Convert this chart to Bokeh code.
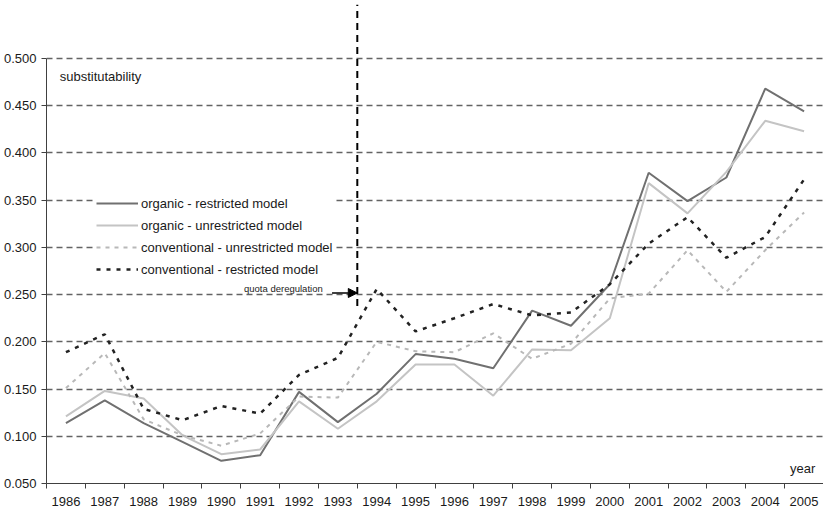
from bokeh.plotting import figure
from bokeh.models import Range1d, FixedTicker, NumeralTickFormatter, Label, Arrow, NormalHead
from bokeh.embed import file_html
from bokeh.resources import INLINE

# ---------------- data ----------------
years = list(range(1986, 2006))
organic_restricted = [0.114, 0.138, 0.114, 0.094, 0.074, 0.080, 0.147, 0.115, 0.145, 0.187,
                      0.182, 0.172, 0.233, 0.217, 0.261, 0.379, 0.349, 0.374, 0.468, 0.444]
organic_unrestricted = [0.121, 0.148, 0.140, 0.101, 0.081, 0.086, 0.137, 0.108, 0.137, 0.176,
                        0.176, 0.143, 0.192, 0.191, 0.225, 0.368, 0.336, 0.380, 0.434, 0.423]
conventional_unrestricted = [0.151, 0.188, 0.118, 0.101, 0.090, 0.103, 0.142, 0.141, 0.200, 0.190,
                             0.189, 0.209, 0.182, 0.198, 0.246, 0.251, 0.297, 0.253, 0.297, 0.337]
conventional_restricted = [0.189, 0.208, 0.129, 0.117, 0.132, 0.124, 0.165, 0.183, 0.256, 0.211,
                           0.225, 0.240, 0.228, 0.231, 0.261, 0.304, 0.332, 0.289, 0.311, 0.372]
y_ticks = [0.05, 0.10, 0.15, 0.20, 0.25, 0.30, 0.35, 0.40, 0.45, 0.50]
series_labels = ["organic - restricted model", "organic - unrestricted model",
                 "conventional - unrestricted model", "conventional - restricted model"]

# quota deregulation marker (between 1993 and 1994)
dereg_x = 1993.5
dereg_y = [0.238, 0.557]
arrow_start_x = 1992.85
arrow_y = 0.2517

FONT = "Liberation Sans"
TXT = "#1a1a1a"
AX = "#404040"

boundaries = [y - 0.5 for y in years] + [years[-1] + 0.5]

p = figure(width=823, height=509, output_backend="svg", toolbar_location=None,
           x_range=Range1d(years[0] - 0.5, years[-1] + 0.5),
           y_range=Range1d(0.05, 0.5614),
           min_border_left=0, min_border_right=0, min_border_top=0, min_border_bottom=26)
p.outline_line_color = None
p.background_fill_color = "white"
p.border_fill_color = "white"

# axes
yax = p.yaxis[0]
yax.ticker = FixedTicker(ticks=y_ticks)
yax.formatter = NumeralTickFormatter(format="0.000")
yax.bounds = (0.05, 0.5)
yax.major_tick_out = 5
yax.major_tick_in = 0
yax.minor_tick_out = 0
yax.minor_tick_in = 0
yax.axis_line_color = AX
yax.major_tick_line_color = AX
yax.major_label_text_font = FONT
yax.major_label_text_font_size = "13px"
yax.major_label_text_color = TXT
yax.major_label_standoff = 5

xax = p.xaxis[0]
xax.ticker = FixedTicker(ticks=years, minor_ticks=boundaries)
xax.major_tick_out = 0
xax.major_tick_in = 0
xax.minor_tick_out = 5
xax.minor_tick_in = 0
xax.axis_line_color = AX
xax.minor_tick_line_color = AX
xax.major_label_text_font = FONT
xax.major_label_text_font_size = "13px"
xax.major_label_text_color = TXT
xax.major_label_text_line_height = 1.0
xax.major_label_standoff = 8

p.xgrid.visible = False
p.ygrid.ticker = FixedTicker(ticks=y_ticks)
p.ygrid.grid_line_color = "#636363"
p.ygrid.grid_line_dash = "6 4"
p.ygrid.grid_line_width = 1.5

# series
p.line(years, organic_restricted, line_color="#707070", line_width=2, legend_label=series_labels[0])
p.line(years, organic_unrestricted, line_color="#c4c4c4", line_width=2, legend_label=series_labels[1])
p.line(years, conventional_unrestricted, line_color="#b8b8b8", line_width=2, line_dash="4 5",
       legend_label=series_labels[2])
p.line(years, conventional_restricted, line_color="#222222", line_width=2.5, line_dash="4 6",
       legend_label=series_labels[3])

# deregulation marker
p.line([dereg_x, dereg_x], dereg_y, line_color="black", line_width=2, line_dash="7 5")
p.add_layout(Arrow(end=NormalHead(size=9, fill_color="black", line_color="black"),
                   x_start=arrow_start_x, y_start=arrow_y, x_end=dereg_x, y_end=arrow_y,
                   line_color="black", line_width=1.5))
p.add_layout(Label(x=1992.61, y=0.2564, text="quota deregulation", text_font=FONT,
                   text_font_size="9.5px", text_align="right", text_baseline="middle",
                   text_color=TXT))
p.add_layout(Label(x=1985.84, y=0.481, text="substitutability", text_font=FONT,
                   text_font_size="13px", text_baseline="middle", text_color=TXT))
p.add_layout(Label(x=2005.29, y=0.0659, text="year", text_font=FONT, text_font_size="13px",
                   text_align="right", text_baseline="middle", text_color=TXT))

# legend
lg = p.legend[0]
lg.location = (50, 204)
lg.margin = 0
lg.padding = 11
lg.glyph_width = 42
lg.glyph_height = 20
lg.label_height = 20
lg.label_standoff = 3
lg.spacing = 2
lg.label_text_font = FONT
lg.label_text_font_size = "13px"
lg.label_text_color = TXT
lg.border_line_color = None
lg.background_fill_color = "white"
lg.background_fill_alpha = 1.0

open("out.html", "w").write(file_html(p, INLINE))
